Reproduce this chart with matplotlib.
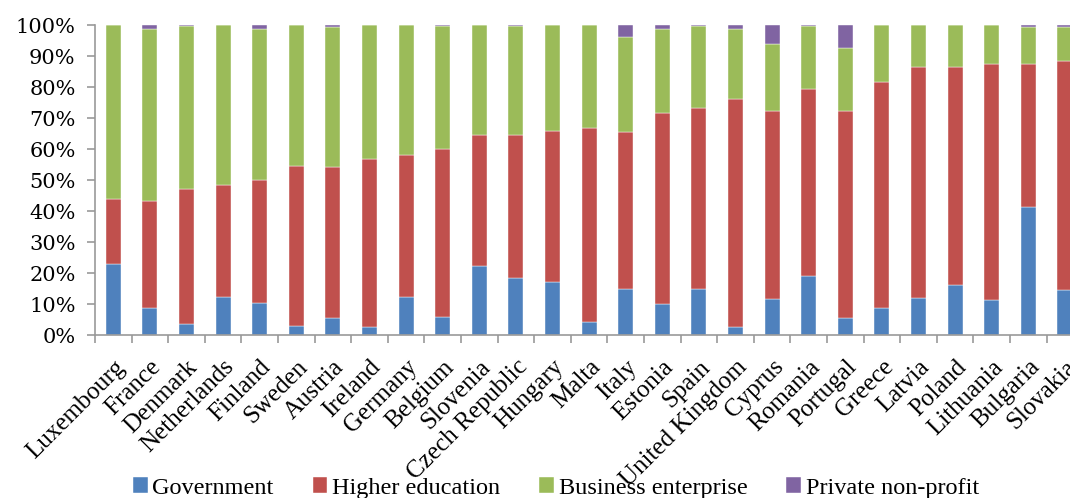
import numpy as np
import matplotlib
matplotlib.use("Agg")
import matplotlib.pyplot as plt
from matplotlib.ticker import PercentFormatter

countries = ["Luxembourg", "France", "Denmark", "Netherlands", "Finland", "Sweden",
             "Austria", "Ireland", "Germany", "Belgium", "Slovenia", "Czech Republic",
             "Hungary", "Malta", "Italy", "Estonia", "Spain", "United Kingdom", "Cyprus",
             "Romania", "Portugal", "Greece", "Latvia", "Poland", "Lithuania", "Bulgaria",
             "Slovakia"]

# shares in percent
government = [22.8, 8.8, 3.4, 12.2, 10.4, 3.0, 5.4, 2.6, 12.2, 5.8, 22.4, 18.3, 17.0, 4.2,
              14.9, 10.0, 14.9, 2.5, 11.6, 19.0, 5.4, 8.7, 12.0, 16.1, 11.2, 41.4, 14.5]
higher_education = [21.1, 34.3, 43.8, 36.2, 39.7, 51.6, 48.8, 54.1, 45.8, 54.2, 42.1, 46.2,
                    48.8, 62.5, 50.5, 61.6, 58.3, 73.6, 60.8, 60.5, 67.0, 72.8, 74.5, 70.4,
                    76.1, 45.9, 74.0]
business = [56.1, 55.6, 52.5, 51.6, 48.6, 45.4, 45.0, 43.3, 42.0, 39.7, 35.5, 35.2, 34.2,
            33.3, 30.8, 27.1, 26.4, 22.6, 21.5, 20.1, 20.2, 18.5, 13.5, 13.5, 12.7, 11.9, 10.7]
private_np = [0.0, 1.3, 0.3, 0.0, 1.3, 0.0, 0.8, 0.0, 0.0, 0.3, 0.0, 0.3, 0.0, 0.0,
              3.8, 1.3, 0.4, 1.3, 6.1, 0.4, 7.4, 0.0, 0.0, 0.0, 0.0, 0.8, 0.8]

series = [("Government", government, "#4F81BD"),
          ("Higher education", higher_education, "#C0504D"),
          ("Business enterprise", business, "#9BBB59"),
          ("Private non-profit", private_np, "#8064A2")]

plt.rcParams["font.family"] = ["Liberation Serif", "DejaVu Serif"]

fig = plt.figure(figsize=(10.7, 4.98), dpi=100)
ax = fig.add_axes([95 / 1070, 1 - 335 / 498, (27 * 36.6) / 1070, 310 / 498])

x = np.arange(len(countries))
bottom = np.zeros(len(countries))
for name, vals, col in series:
    vals = np.array(vals)
    ax.bar(x, vals, 0.41, bottom=bottom, color=col, label=name,
           edgecolor="white", linewidth=0.3)
    bottom += vals

ax.set_xlim(-0.5, len(countries) - 0.5)
ax.set_ylim(0, 100)
ax.set_yticks(np.arange(0, 101, 10))
ax.yaxis.set_major_formatter(PercentFormatter(decimals=0))
ax.set_xticks(x)
ax.set_xticklabels(countries, rotation=45, ha="right", rotation_mode="anchor", fontsize=18)
for lab in ax.get_yticklabels():
    lab.set_family("DejaVu Serif")
ax.set_xticks(np.arange(-0.5, len(countries), 1), minor=True)
ax.tick_params(axis="x", which="major", length=0, pad=15)
ax.tick_params(axis="x", which="minor", length=6, color="#999999", width=1.2)
ax.tick_params(axis="y", length=6, color="#999999", width=1.2, labelsize=15, pad=8)

for s in ["top", "right"]:
    ax.spines[s].set_visible(False)
for s in ["left", "bottom"]:
    ax.spines[s].set_color("#999999")
    ax.spines[s].set_linewidth(1.2)

fig.legend(loc="center left", bbox_to_anchor=(133 / 1070, 1 - 488 / 498), ncol=4,
           frameon=False, fontsize=17.5, borderpad=0, borderaxespad=0,
           handlelength=0.6, handleheight=0.6, handletextpad=0.2, columnspacing=1.6)

fig.savefig("out.png", dpi=100)
